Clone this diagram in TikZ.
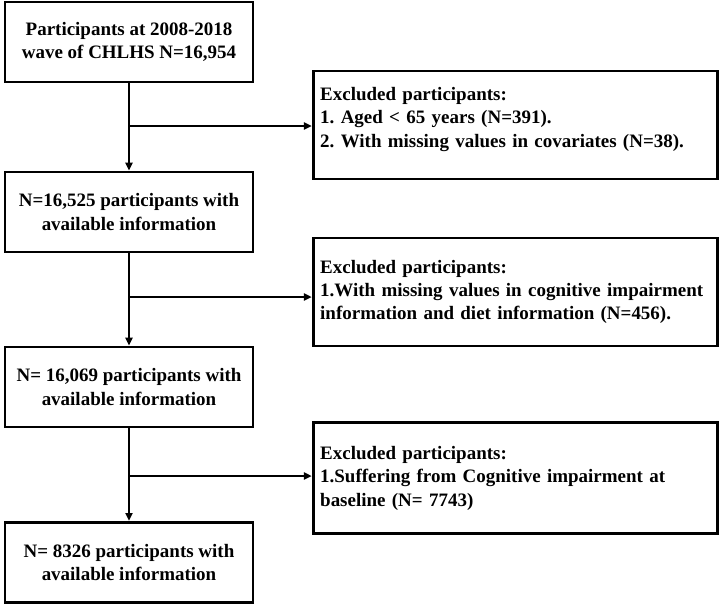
\documentclass[tikz,border=0pt]{standalone}
\usepackage{fontspec}
\setmainfont{Liberation Serif}
\usetikzlibrary{positioning,arrows.meta}
\frenchspacing
\hyphenpenalty=10000

\begin{document}
\begin{tikzpicture}[
  every node/.style={font=\fontsize{13.5}{16.6}\selectfont\bfseries},
  mainbox/.style={draw,line width=2.1pt,minimum width=6.2cm,minimum height=2cm,align=center},
  exclbox/.style={draw,line width=2.1pt,minimum height=2.7cm,text width=9.75cm,
    align=left,inner xsep=0.175cm},
  flow/.style={line width=2.1pt,-{Triangle[length=5.6pt,width=5pt]}}
]
  % 余白
  \useasboundingbox (0,0) rectangle (18,-15.175);

  % 左列の箱
  \node[mainbox] (total) at (3.225,-1.05)
    {Participants at 2008-2018\\wave of CHLHS N=16,954};
  \node[mainbox] (avail1) at (3.225,-5.3)
    {N=16,525 participants with\\available information};
  \node[mainbox] (avail2) at (3.225,-9.675)
    {N= 16,069 participants with\\available information};
  \node[mainbox] (final) at (3.225,-14.06)
    {N= 8326 participants with\\available information};

  % 除外の箱
  \node[exclbox] (excl1) at (12.88,-3.125)
    {Excluded participants:\\
     1. Aged < 65 years (N=391).\\
     2. With missing values in covariates (N=38).\\[-0.2cm]~};
  \node[exclbox] (excl2) at (12.88,-7.3)
    {Excluded participants:\\
     1.With missing values in cognitive impairment\\
     information and diet information (N=456).};
  \node[exclbox,minimum height=2.775cm] (excl3) at (12.88,-11.96)
    {Excluded participants:\\
     1.Suffering from Cognitive impairment at\\
     baseline (N= 7743)};

  % 縦の矢印
  \draw[flow] (total) -- (avail1);
  \draw[flow] (avail1) -- (avail2);
  \draw[flow] (avail2) -- (final);

  % 分岐
  \coordinate (split1) at (3.225,-3.15);
  \coordinate (split2) at (3.225,-7.425);
  \coordinate (split3) at (3.225,-11.9);
  \draw[flow] (split1) -- (split1 -| excl1.west);
  \draw[flow] (split2) -- (split2 -| excl2.west);
  \draw[flow] (split3) -- (split3 -| excl3.west);
\end{tikzpicture}
\end{document}
